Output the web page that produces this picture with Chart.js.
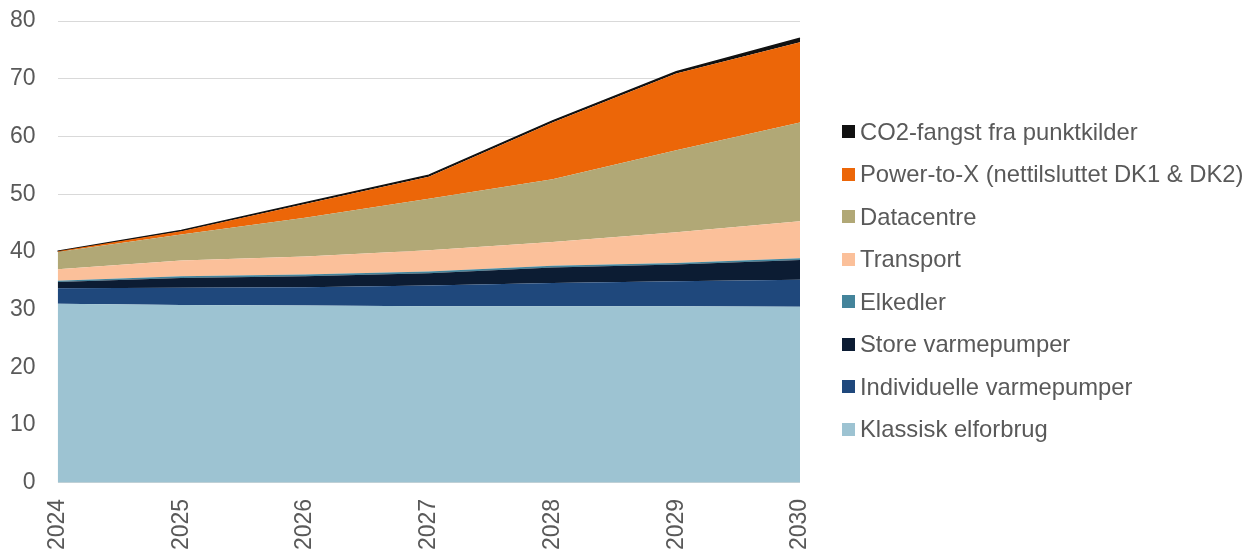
<!DOCTYPE html>
<html>
<head>
<meta charset="utf-8">
<script src="https://cdn.jsdelivr.net/npm/chart.js@4.4.1/dist/chart.umd.min.js"></script>
<style>
  body { margin: 0; background: #fff; font-family: 'Liberation Sans', Arial, sans-serif; }
  #wrap { position: relative; width: 1249px; height: 549px; overflow: hidden; }
  #legend { position: absolute; left: 842px; top: 0; }
  .item { position: absolute; left: 0; white-space: nowrap; font-size: 23.8px; color: #595959; line-height: 28px; height: 28px; }
  .box { position: absolute; left: 0; top: 7.5px; width: 13px; height: 13px; }
  .lbl { position: absolute; left: 18px; top: 0; }
</style>
</head>
<body>
<div id="wrap">
  <canvas id="chart_elforbrug"></canvas>
  <div id="legend"></div>
</div>
<script>
// years on the x axis
var years = ['2024', '2025', '2026', '2027', '2028', '2029', '2030']

// TWh per category (stacked, bottom to top)
var klassisk     = [31.0, 30.8, 30.7, 30.6, 30.6, 30.6, 30.5]
var individuelle = [2.7, 3.0, 3.2, 3.6, 4.0, 4.3, 4.7]
var store_vp     = [1.1, 1.7, 1.9, 2.1, 2.7, 2.9, 3.4]
var elkedler     = [0.2, 0.3, 0.3, 0.3, 0.3, 0.3, 0.3]
var transport    = [2.0, 2.7, 3.1, 3.7, 4.1, 5.3, 6.4]
var datacentre   = [3.0, 4.5, 6.7, 8.9, 10.9, 14.2, 17.1]
var ptx          = [0.1, 0.6, 2.4, 3.8, 9.8, 13.3, 13.9]
var co2          = [0.0, 0.1, 0.2, 0.3, 0.3, 0.3, 0.7]

var y_ticks = [0, 10, 20, 30, 40, 50, 60, 70, 80]

var series = [
  {label: 'Klassisk elforbrug', data: klassisk, color: '#9DC3D2'},
  {label: 'Individuelle varmepumper', data: individuelle, color: '#1F487C'},
  {label: 'Store varmepumper', data: store_vp, color: '#0C1C33'},
  {label: 'Elkedler', data: elkedler, color: '#44849B'},
  {label: 'Transport', data: transport, color: '#FBC09A'},
  {label: 'Datacentre', data: datacentre, color: '#B1A876'},
  {label: 'Power-to-X (nettilsluttet DK1 & DK2)', data: ptx, color: '#EC6608'},
  {label: 'CO2-fangst fra punktkilder', data: co2, color: '#111111'}
]

var datasets = series.map(function (s, i) {
  var last = i == series.length - 1
  return {
    label: s.label,
    data: s.data,
    backgroundColor: s.color,
    borderColor: last ? '#111111' : s.color,
    borderWidth: last ? 1.5 : 0,
    pointRadius: 0,
    tension: 0,
    fill: i == 0 ? 'origin' : '-1'
  }
})

var font = {family: "'Liberation Sans', Arial, sans-serif", size: 23}

var ctx = document.getElementById('chart_elforbrug').getContext('2d')
var mychart = new Chart(ctx, {
  type: 'line',
  data: {labels: years, datasets: datasets},
  options: {
    responsive: true,
    maintainAspectRatio: false,
    animation: false,
    layout: {padding: {left: -12, right: 449, top: 21, bottom: -17}},
    plugins: {legend: {display: false}, tooltip: {enabled: false}},
    scales: {
      x: {
        offset: false,
        grid: {display: false, drawTicks: false},
        border: {display: false},
        ticks: {color: '#595959', font: font, minRotation: 90, maxRotation: 90, padding: 16, autoSkip: false}
      },
      y: {
        stacked: true,
        min: 0,
        max: 80,
        afterBuildTicks: function (axis) { axis.ticks = y_ticks.map(function (v) { return {value: v} }) },
        afterFit: function (axis) { axis.paddingTop = 0 },
        grid: {color: '#D9D9D9', lineWidth: 1, drawTicks: false},
        border: {display: false},
        ticks: {color: '#595959', font: font, padding: 22}
      }
    }
  }
})

// legend, top item = last series
var legend = document.getElementById('legend')
series.slice().reverse().forEach(function (s, i) {
  var div = document.createElement('div')
  div.className = 'item'
  div.style.top = (131.5 + 42.5 * i - 14) + 'px'
  div.innerHTML = '<span class="box" style="background:' + s.color + '"></span><span class="lbl"></span>'
  div.querySelector('.lbl').textContent = s.label
  legend.appendChild(div)
})
</script>
</body>
</html>
